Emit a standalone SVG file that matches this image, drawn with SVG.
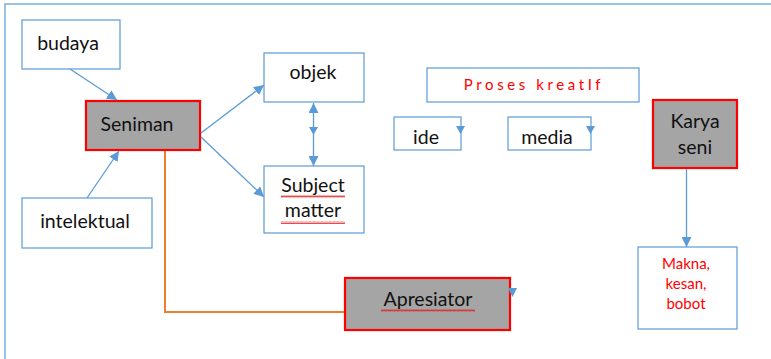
<svg xmlns="http://www.w3.org/2000/svg" width="771" height="359" viewBox="0 0 771 359">
  <defs>
    <marker id="arrow" viewBox="0 0 10 10" refX="10" refY="5" markerWidth="10" markerHeight="10" markerUnits="userSpaceOnUse" orient="auto-start-reverse">
      <path d="M0,0 L10,5 L0,10 Z" fill="#5b9bd5"/>
    </marker>
    <pattern id="squiggle" width="4" height="3" patternUnits="userSpaceOnUse">
      <path d="M0,2.5 L1,0.5 L2,2.5 L3,0.5 L4,2.5" fill="none" stroke="#e02020" stroke-width="0.8"/>
    </pattern>
  </defs>
  <style>
    .box { fill: #ffffff; stroke: #5b9bd5; stroke-width: 1.2; }
    .key { fill: #a5a5a5; stroke: #ff0000; stroke-width: 2.2; }
    .lbl { font-family: Lato, "Liberation Sans", sans-serif; font-size: 19.5px; fill: #111111; text-anchor: middle; }
    .red { font-family: Lato, "Liberation Sans", sans-serif; font-size: 15px; fill: #ff0000; text-anchor: middle; }
    .link { fill: none; stroke: #5b9bd5; stroke-width: 1.3; }
    .head { fill: #5b9bd5; }
  </style>

  <rect width="771" height="359" fill="#ffffff"/>
  <!-- frame -->
  <path d="M5,359 L5,4 L771,4" fill="none" stroke="#7aaedc" stroke-width="1.5"/>

  <g id="budaya">
    <rect class="box" x="22" y="20" width="98" height="49"/>
    <text class="lbl" x="68" y="50">budaya</text>
  </g>

  <g id="seniman">
    <rect class="key" x="86" y="101" width="114" height="49"/>
    <text class="lbl" x="137" y="131">Seniman</text>
  </g>

  <g id="intelektual">
    <rect class="box" x="22" y="198" width="130" height="50"/>
    <text class="lbl" x="85" y="228">intelektual</text>
  </g>

  <g id="objek">
    <rect class="box" x="264" y="53" width="100" height="49"/>
    <text class="lbl" x="313" y="79">objek</text>
  </g>

  <g id="subject-matter">
    <rect class="box" x="264" y="166" width="100" height="67"/>
    <text class="lbl" x="313" y="192">Subject</text>
    <text class="lbl" x="313" y="217">matter</text>
    <rect x="281" y="195" width="64" height="3" fill="url(#squiggle)"/>
    <rect x="281" y="221" width="64" height="3" fill="url(#squiggle)"/>
  </g>

  <g id="proses-kreatif">
    <rect class="box" x="427" y="68" width="212" height="34"/>
    <text class="red" x="534" y="90" letter-spacing="3.6">Proses kreatIf</text>
  </g>

  <g id="ide">
    <rect class="box" x="394" y="117" width="67" height="33"/>
    <text class="lbl" x="426" y="144">ide</text>
  </g>

  <g id="media">
    <rect class="box" x="508" y="117" width="83" height="33"/>
    <text class="lbl" x="547" y="144">media</text>
  </g>

  <g id="karya-seni">
    <rect class="key" x="653" y="100" width="84" height="68"/>
    <text class="lbl" x="695" y="128">Karya</text>
    <text class="lbl" x="695" y="154">seni</text>
  </g>

  <g id="makna">
    <rect class="box" x="638" y="247" width="99" height="82"/>
    <text class="red" x="686" y="269">Makna,</text>
    <text class="red" x="686" y="289">kesan,</text>
    <text class="red" x="686" y="309">bobot</text>
  </g>

  <g id="apresiator">
    <rect class="key" x="345" y="278" width="165" height="52"/>
    <text class="lbl" x="428" y="306">Apresiator</text>
    <rect x="381" y="309" width="94" height="3" fill="url(#squiggle)"/>
  </g>

  <g id="connectors">
    <line class="link" x1="70" y1="69" x2="117" y2="100" marker-end="url(#arrow)"/>
    <line class="link" x1="87" y1="198" x2="119" y2="151" marker-end="url(#arrow)"/>
    <line class="link" x1="201" y1="133" x2="264" y2="85" marker-end="url(#arrow)"/>
    <line class="link" x1="201" y1="137" x2="264" y2="197" marker-end="url(#arrow)"/>
    <line class="link" x1="313.5" y1="103" x2="313.5" y2="166" marker-start="url(#arrow)" marker-end="url(#arrow)"/>
    <path class="head" d="M309,127 L318,127 L313.5,135 Z"/>
    <line class="link" x1="686.5" y1="169" x2="686.5" y2="247" marker-end="url(#arrow)"/>
    <path d="M165,151 L165,312 L344,312" fill="none" stroke="#ed7d31" stroke-width="2"/>
    <path class="head" d="M456,126 L465,126 L460.5,134 Z"/>
    <path class="head" d="M586,126 L595,126 L590.5,134 Z"/>
    <path class="head" d="M508,288 L517,288 L512.5,297 Z"/>
  </g>
</svg>
